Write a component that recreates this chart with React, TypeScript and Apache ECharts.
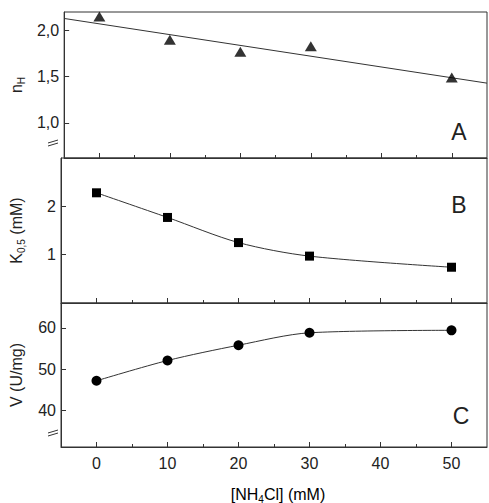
import React, { useEffect, useRef } from 'react';
import * as echarts from 'echarts';

// [NH4Cl] concentrations (mM)
const concentrations = [0, 10, 20, 30, 50];
// Panel A: Hill coefficient and its linear fit
const hillCoefficient = [2.15, 1.9, 1.77, 1.83, 1.49];
const hillFitX = [-5, 55];
const hillFitY = [2.13, 1.43];
// Panel B: K0.5 (mM)
const halfSaturation = [2.28, 1.77, 1.25, 0.97, 0.74];
// Panel C: V (U/mg)
const maxVelocity = [47.2, 52.1, 55.8, 58.8, 59.4];

const xMajorTicks = [0, 10, 20, 30, 40, 50];
const xMinorTicks = [5, 15, 25, 35, 45];
const hillTicks = [1.0, 1.5, 2.0];
const kTicks = [1, 2];
const vTicks = [40, 50, 60];

const FONT = 'Liberation Sans, Arial, Helvetica, sans-serif';
const INK = '#222';
const LINE = '#333';

const richName = {
  t: { fontSize: 16, fontFamily: FONT, color: INK, lineHeight: 20, verticalAlign: 'middle' as const },
  s: { fontSize: 10, fontFamily: FONT, color: INK, lineHeight: 8, verticalAlign: 'bottom' as const },
};

export default function App() {
  const ref = useRef<HTMLDivElement>(null);

  useEffect(() => {
    if (!ref.current) return;
    const chart = echarts.init(ref.current, undefined, { renderer: 'svg' });

    const grids = [
      { left: 53, width: 434, top: 12, height: 146 },
      { left: 53, width: 434, top: 158, height: 145 },
      { left: 53, width: 434, top: 303, height: 144 },
    ].map((g) => ({ ...g, show: true, borderColor: LINE, borderWidth: 1, backgroundColor: 'transparent' }));

    const xAxes: any[] = [];
    [0, 1, 2].forEach((gi) => {
      xAxes.push({
        type: 'value',
        gridIndex: gi,
        position: 'bottom',
        min: -5,
        max: 55,
        axisLine: { show: true, onZero: false, lineStyle: { color: LINE, width: 1 } },
        axisTick: { show: true, inside: true, length: 5, customValues: xMajorTicks, lineStyle: { color: LINE } },
        axisLabel: {
          show: gi === 2,
          customValues: xMajorTicks,
          margin: 8,
          fontSize: 16,
          fontFamily: FONT,
          color: INK,
        },
        splitLine: { show: false },
      });
      xAxes.push({
        type: 'value',
        gridIndex: gi,
        position: 'bottom',
        min: -5,
        max: 55,
        axisLine: { show: false, onZero: false },
        axisTick: { show: true, inside: true, length: 3, customValues: xMinorTicks, lineStyle: { color: LINE } },
        axisLabel: { show: false },
        splitLine: { show: false },
      });
    });

    const yBase = (gi: number, min: number, max: number, ticks: number[], name: string, fmt?: (v: number) => string) => ({
      type: 'value',
      gridIndex: gi,
      position: 'left',
      min,
      max,
      name,
      nameLocation: 'middle',
      nameGap: 35,
      nameRotate: 90,
      nameTextStyle: { rich: richName },
      axisLine: { show: true, onZero: false, lineStyle: { color: LINE, width: 1 } },
      axisTick: { show: true, inside: true, length: 5, customValues: ticks, lineStyle: { color: LINE } },
      axisLabel: {
        customValues: ticks,
        margin: 5,
        fontSize: 16,
        fontFamily: FONT,
        color: INK,
        formatter: fmt,
      },
      splitLine: { show: false },
    });

    const breakMark = (yc: number) => ({
      type: 'group',
      z: 100,
      children: [
        { type: 'rect', shape: { x: 51, y: yc - 0.5, width: 4, height: 3 }, style: { fill: '#fff' } },
        { type: 'line', shape: { x1: 48, y1: yc + 1.5, x2: 58, y2: yc - 1.5 }, style: { stroke: LINE, lineWidth: 1 } },
        { type: 'line', shape: { x1: 48, y1: yc + 4.5, x2: 58, y2: yc + 1.5 }, style: { stroke: LINE, lineWidth: 1 } },
      ],
    });

    const panelLetter = (text: string, x: number, y: number) => ({
      type: 'text',
      x,
      y,
      z: 100,
      style: { text, fontSize: 23, fontFamily: FONT, fill: INK, align: 'center', verticalAlign: 'middle' },
    });

    chart.setOption({
      animation: false,
      backgroundColor: '#fff',
      grid: grids,
      xAxis: xAxes,
      yAxis: [
        yBase(0, 0.62, 2.2, hillTicks, '{t|n}{s|H}', (v: number) => v.toFixed(1).replace('.', ',')),
        yBase(1, 0, 3, kTicks, '{t|K}{s|0,5}{t| (mM)}'),
        yBase(2, 31.2, 66, vTicks, '{t|V (U/mg)}'),
      ],
      series: [
        {
          type: 'scatter',
          xAxisIndex: 0,
          yAxisIndex: 0,
          symbol: 'triangle',
          symbolSize: [12, 10],
          itemStyle: { color: '#000' },
          data: concentrations.map((x, i) => [x, hillCoefficient[i]]),
          z: 3,
        },
        {
          type: 'line',
          xAxisIndex: 0,
          yAxisIndex: 0,
          symbol: 'none',
          lineStyle: { color: LINE, width: 1 },
          data: hillFitX.map((x, i) => [x, hillFitY[i]]),
          z: 2,
        },
        {
          type: 'line',
          xAxisIndex: 2,
          yAxisIndex: 1,
          smooth: 0.3,
          symbol: 'rect',
          symbolSize: 9,
          itemStyle: { color: '#000' },
          lineStyle: { color: LINE, width: 1 },
          data: concentrations.map((x, i) => [x, halfSaturation[i]]),
        },
        {
          type: 'line',
          xAxisIndex: 4,
          yAxisIndex: 2,
          smooth: 0.3,
          symbol: 'circle',
          symbolSize: 10,
          itemStyle: { color: '#000' },
          lineStyle: { color: LINE, width: 1 },
          data: concentrations.map((x, i) => [x, maxVelocity[i]]),
        },
      ],
      graphic: [
        breakMark(141.5),
        breakMark(431.5),
        panelLetter('A', 459, 132),
        panelLetter('B', 459, 205),
        panelLetter('C', 461, 416),
        {
          type: 'text',
          x: 278,
          y: 494,
          z: 100,
          style: {
            text: '{t|[NH}{s|4}{t|Cl] (mM)}',
            rich: richName,
            align: 'center',
            verticalAlign: 'middle',
          },
        },
      ],
    });

    return () => chart.dispose();
  }, []);

  return (
    <div
      ref={ref}
      style={{ position: 'absolute', left: 0, top: 0, width: 489, height: 503, background: '#fff' }}
    />
  );
}
